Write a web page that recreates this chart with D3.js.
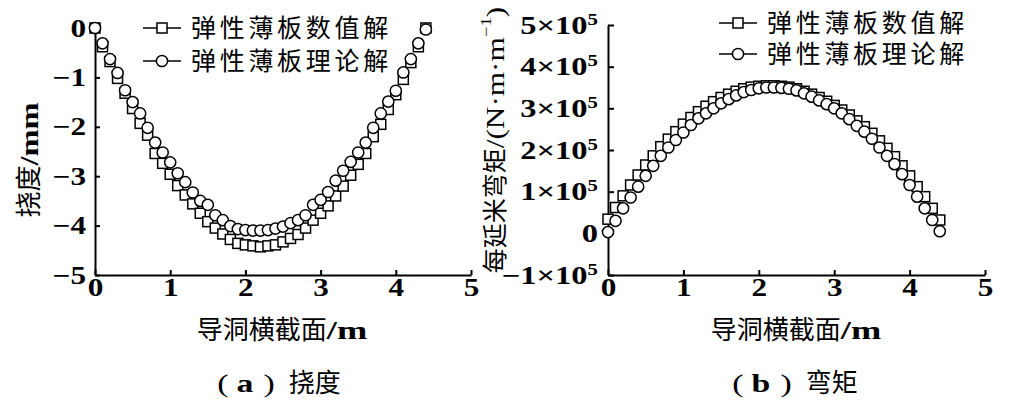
<!DOCTYPE html>
<html>
<head>
<meta charset="utf-8">
<script src="https://cdn.jsdelivr.net/npm/d3@7"></script>
<style>
  html, body { margin: 0; padding: 0; background: #fff; }
  svg { display: block; }
  .num { font-family: "Liberation Serif", "Times New Roman", serif; font-weight: bold; }
  .numr { font-family: "Liberation Serif", "Times New Roman", serif; font-weight: normal; }
  .cjk { font-family: "Noto Sans CJK SC", sans-serif; }
</style>
</head>
<body>
<svg id="chart" width="1017" height="400"></svg>
<script>
// ---------- data ----------
const xPos = [0,0.1,0.2,0.3,0.4,0.5,0.6,0.7,0.8,0.9,1.0,1.1,1.2,1.3,1.4,1.5,1.6,1.7,1.8,1.9,2.0,2.1,2.2,2.3,2.4,2.5,2.6,2.7,2.8,2.9,3.0,3.1,3.2,3.3,3.4,3.5,3.6,3.7,3.8,3.9,4.0,4.1,4.2,4.3,4.4];

// deflection (mm)
const deflNumerical = [0,-0.38,-0.68,-1.02,-1.32,-1.63,-1.93,-2.17,-2.54,-2.74,-2.96,-3.19,-3.38,-3.56,-3.75,-3.92,-4.05,-4.17,-4.28,-4.36,-4.39,-4.41,-4.43,-4.41,-4.39,-4.33,-4.26,-4.18,-4.05,-3.89,-3.75,-3.60,-3.40,-3.20,-2.98,-2.76,-2.54,-2.20,-1.95,-1.65,-1.35,-1.04,-0.70,-0.38,0];
const deflTheory = [0,-0.31,-0.63,-0.91,-1.26,-1.50,-1.73,-2.02,-2.32,-2.52,-2.72,-2.94,-3.12,-3.33,-3.50,-3.58,-3.79,-3.89,-4.01,-4.07,-4.09,-4.10,-4.10,-4.09,-4.06,-4.02,-3.95,-3.89,-3.79,-3.58,-3.48,-3.32,-3.09,-2.89,-2.71,-2.52,-2.32,-2.02,-1.73,-1.49,-1.27,-0.90,-0.63,-0.31,-0.03];

// bending moment (N·m/m)
const momNumerical = [0.34,0.62,0.90,1.16,1.40,1.64,1.86,2.08,2.26,2.44,2.62,2.78,2.92,3.05,3.16,3.26,3.34,3.41,3.47,3.51,3.53,3.54,3.54,3.53,3.51,3.47,3.41,3.34,3.26,3.17,3.07,2.96,2.84,2.70,2.56,2.40,2.22,2.04,1.84,1.62,1.38,1.12,0.88,0.60,0.32].map(v => v * 1e5);
const momTheory = [0.03,0.30,0.60,0.86,1.12,1.38,1.62,1.86,2.06,2.24,2.42,2.60,2.76,2.88,3.00,3.12,3.22,3.31,3.39,3.44,3.48,3.50,3.50,3.49,3.47,3.43,3.36,3.28,3.19,3.10,3.00,2.88,2.74,2.58,2.44,2.27,2.06,1.86,1.66,1.42,1.16,0.88,0.60,0.32,0.05].map(v => v * 1e5);

const xTicks = [0,1,2,3,4,5];
const deflTicks = [0,-1,-2,-3,-4,-5];
const momTicks = [-1e5,0,1e5,2e5,3e5,4e5,5e5];
const seriesNames = ["弹性薄板数值解", "弹性薄板理论解"];

// ---------- drawing ----------
const SX = 1.25;       // horizontal stretch of Latin glyphs (reference font is wide)
const svg = d3.select("#chart");
svg.append("rect").attr("width",1017).attr("height",400).attr("fill","#fff");

const SQ = 10, R = 5.6;

function drawMarkers(g, pts, x, y, kind) {
  if (kind === "square") {
    g.selectAll(null).data(pts).enter().append("rect")
      .attr("x", d => x(d[0]) - SQ/2).attr("y", d => y(d[1]) - SQ/2)
      .attr("width", SQ).attr("height", SQ)
      .attr("fill","#fff").attr("stroke","#000").attr("stroke-width",1.5);
  } else {
    g.selectAll(null).data(pts).enter().append("circle")
      .attr("cx", d => x(d[0])).attr("cy", d => y(d[1])).attr("r", R)
      .attr("fill","#fff").attr("stroke","#000").attr("stroke-width",1.5);
  }
}

function styleAxis(g, orient, sx, size) {
  sx = sx || SX; size = size || 25;
  g.select(".domain").attr("stroke","#000").attr("stroke-width",2);
  g.selectAll(".tick line").attr("stroke","#000").attr("stroke-width",2);
  g.selectAll(".tick text").attr("class","num").attr("fill","#000").attr("font-size",size)
    .each(function() {
      const t = d3.select(this);
      if (orient === "left") {
        const x = +t.attr("x");
        t.attr("x", x / sx);
      }
      t.attr("transform", `scale(${sx},1)`);
    });
}

// rich text made of separately-scaled parts
function rich(parent, parts, x, y, anchor, rot) {
  const g = parent.append("g").attr("transform", `translate(${x},${y}) rotate(${rot || 0})`);
  let total = 0;
  const els = parts.map(p => {
    const t = g.append("text").attr("class", p.cls).attr("font-size", p.size)
      .attr("dy", "0.36em").attr("fill", "#000").text(p.text);
    if (p.ls) t.style("letter-spacing", p.ls);
    const sx = p.sx || 1;
    const w = t.node().getComputedTextLength() * sx + (p.gap || 0);
    total += w;
    return { t, w, sx, p };
  });
  let cur = anchor === "middle" ? -total / 2 : anchor === "end" ? -total : 0;
  els.forEach(e => {
    e.t.attr("transform", `translate(${cur},${e.p.shift || 0}) scale(${e.sx},1)`);
    cur += e.w;
  });
  return g;
}

function legend(g, x0, ys, textX) {
  ["square","circle"].forEach((k, i) => {
    const y = ys[i];
    g.append("line").attr("x1", x0).attr("x2", x0 + 38).attr("y1", y).attr("y2", y)
      .attr("stroke","#000").attr("stroke-width",1.5);
    const cx = x0 + 19;
    if (k === "square") {
      g.append("rect").attr("x", cx - SQ/2).attr("y", y - SQ/2).attr("width", SQ).attr("height", SQ)
        .attr("fill","#fff").attr("stroke","#000").attr("stroke-width",1.5);
    } else {
      g.append("circle").attr("cx", cx).attr("cy", y).attr("r", R)
        .attr("fill","#fff").attr("stroke","#000").attr("stroke-width",1.5);
    }
    rich(g, [{ text: seriesNames[i], cls: "cjk", size: 25, ls: "3.7px" }], textX, y, "start");
  });
}

function caption(g, letter, words, cx) {
  rich(g, [
    { text: "(", cls: "numr", size: 26, sx: 1.3, gap: 8 },
    { text: letter, cls: "num", size: 26, sx: 1.3, gap: 10 },
    { text: ")", cls: "numr", size: 26, sx: 1.3, gap: 14 },
    { text: words, cls: "cjk", size: 26 }
  ], cx, 383, "middle");
}

// ----- panel (a) -----
const xA = d3.scaleLinear().domain([0,5]).range([95,471]);
const yA = d3.scaleLinear().domain([-5,0]).range([275,28]);
const gA = svg.append("g");

gA.append("g").attr("transform","translate(0,275)")
  .call(d3.axisBottom(xA).tickValues(xTicks).tickFormat(d3.format("d")).tickSizeInner(-5).tickSizeOuter(0).tickPadding(3))
  .call(g => styleAxis(g, "bottom"));
gA.append("g").attr("transform","translate(95,0)")
  .call(d3.axisLeft(yA).tickValues(deflTicks).tickFormat(d3.format("d")).tickSizeInner(-5).tickSizeOuter(0).tickPadding(9))
  .call(g => styleAxis(g, "left"));

drawMarkers(gA.append("g"), xPos.map((x,i)=>[x, deflNumerical[i]]), xA, yA, "square");
drawMarkers(gA.append("g"), xPos.map((x,i)=>[x, deflTheory[i]]), xA, yA, "circle");

legend(gA, 143, [28, 61], 191);

rich(gA, [
  { text: "导洞横截面", cls: "cjk", size: 26 },
  { text: "/m", cls: "num", size: 26, sx: 1.4 }
], 282, 330, "middle");

rich(gA, [
  { text: "挠度", cls: "cjk", size: 26 },
  { text: "/mm", cls: "num", size: 26, sx: SX }
], 29, 160, "middle", -90);

caption(gA, "a", "挠度", 279);

// ----- panel (b) -----
const xB = d3.scaleLinear().domain([0,5]).range([608,985]);
const yB = d3.scaleLinear().domain([-1e5,5e5]).range([275,25]);
const gB = svg.append("g");

gB.append("g").attr("transform","translate(0,275)")
  .call(d3.axisBottom(xB).tickValues(xTicks).tickFormat(d3.format("d")).tickSizeInner(-5).tickSizeOuter(0).tickPadding(3))
  .call(g => styleAxis(g, "bottom"));
const yAxB = gB.append("g").attr("transform","translate(608,0)")
  .call(d3.axisLeft(yB).tickValues(momTicks).tickFormat(() => "").tickSizeInner(-6).tickSizeOuter(0).tickPadding(10));
yAxB.selectAll(".tick text").each(function(d) {
  const t = d3.select(this);
  t.text(null);
  if (d === 0) { t.text("0"); return; }
  const m = d / 1e5;
  t.append("tspan").text((m < 0 ? "\u2212" : "") + Math.abs(m) + "\u00D710");
  t.append("tspan").attr("font-size", 16).attr("dy", "-0.55em").text("5");
});
styleAxis(yAxB, "left", 1.3, 25);

drawMarkers(gB.append("g"), xPos.map((x,i)=>[x, momNumerical[i]]), xB, yB, "square");
drawMarkers(gB.append("g"), xPos.map((x,i)=>[x, momTheory[i]]), xB, yB, "circle");

legend(gB, 719, [23, 54], 767);

rich(gB, [
  { text: "导洞横截面", cls: "cjk", size: 26 },
  { text: "/m", cls: "num", size: 26, sx: 1.4 }
], 796, 330, "middle");

rich(gB, [
  { text: "每延米弯矩", cls: "cjk", size: 25 },
  { text: "/(N·m·m", cls: "numr", size: 25, sx: SX },
  { text: "\u22121", cls: "numr", size: 15, sx: SX, shift: -9 },
  { text: ")", cls: "numr", size: 25, sx: SX }
], 495, 140, "middle", -90);

caption(gB, "b", "弯矩", 795);
</script>
</body>
</html>
